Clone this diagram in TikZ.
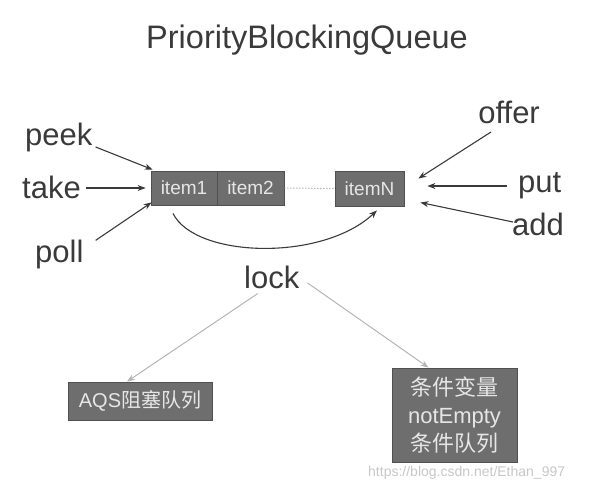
\documentclass[tikz,border=0pt]{standalone}
\usepackage{fontspec}
\setmainfont{Liberation Sans}
\newfontfamily\cjk{Noto Sans CJK SC}
\usetikzlibrary{arrows.meta}
\definecolor{txt}{HTML}{3A3A3A}
\definecolor{boxfill}{HTML}{6E6E6E}
\definecolor{boxline}{HTML}{505050}
\definecolor{boxtxt}{HTML}{E6E6E6}
\definecolor{lightarrow}{HTML}{B4B4B4}
\tikzset{
  op/.style={inner sep=0pt, text=txt, font=\fontsize{31}{31}\selectfont, anchor=base west},
  qbox/.style={draw=boxline, fill=boxfill, text=boxtxt, inner sep=0pt, line width=0.8pt, font=\fontsize{19}{19}\selectfont},
  darr/.style={draw=txt, line width=1.1pt, -{Stealth[length=8pt,width=6pt]}},
  larr/.style={draw=lightarrow, line width=1pt, -{Stealth[length=8pt,width=6pt]}},
}
\begin{document}
\begin{tikzpicture}[x=1pt,y=-1pt]
\useasboundingbox (0,0) rectangle (601,488);
\node[inner sep=0pt, text=txt, font=\fontsize{32.5}{32.5}\selectfont, anchor=base] (title) at (307,48) {PriorityBlockingQueue};

\node[qbox, minimum width=66pt, minimum height=34pt] (item1) at (184,188) {item1};
\node[qbox, minimum width=67pt, minimum height=34pt] (item2) at (250.5,188) {item2};
\node[qbox, minimum width=69pt, minimum height=35pt] (itemN) at (369.5,188.5) {itemN};
\draw[black!45, line width=1pt, dotted] (item2.east) -- (itemN.west);

\node[op] (peek) at (25,145) {peek};
\node[op] (take) at (22,198) {take};
\node[op] (poll) at (35,262) {poll};
\node[op, anchor=base east] (offer) at (540,123) {offer};
\node[op] (put) at (518,192) {put};
\node[op] (add) at (512,235) {add};
\node[op] (lock) at (244,288) {lock};

\draw[darr] ([shift={(3,10)}]peek.east) -- ([shift={(2,-1)}]item1.north west);
\draw[darr] ([shift={(5,-10)}]take.base east) -- ([shift={(-5,0)}]item1.west);
\draw[darr] ([shift={(12,1)}]poll.north east) -- ([shift={(1,-3)}]item1.south west);
\draw[darr] ([shift={(-49,9)}]offer.base east) -- ([shift={(14,-10)}]itemN.east);
\draw[darr] ([shift={(-11,-6)}]put.base west) -- ([shift={(23,-6)}]put.base west -| itemN.east);
\draw[darr] ([shift={(1,-13)}]add.base west) -- ([shift={(16,14)}]itemN.east);
\draw[darr] ([shift={(-11,8)}]item1.south) .. controls (195,258) and (322,262) .. ([shift={(7.5,4)}]itemN.south);

\node[qbox, minimum width=144pt, minimum height=38pt, font=\fontsize{20}{20}\selectfont] (aqs) at (140,401) {AQS{\cjk 阻塞队列}};
\node[qbox, minimum width=125pt, minimum height=94pt, align=center, font=\fontsize{22}{28}\selectfont] (cond) at (454.5,415) {{\cjk 条件变量}\\notEmpty\\{\cjk 条件队列}};

\draw[larr] ([shift={(-14,5)}]lock.south) -- ([shift={(-13,0)}]aqs.north);
\draw[larr] ([shift={(8,6)}]lock.east) -- ([shift={(-26,0)}]cond.north);

\node[inner sep=0pt, anchor=base west, text=black!22, font=\fontsize{14}{14}\selectfont] (wm) at (368,476) {https://blog.csdn.net/Ethan\_997};
\end{tikzpicture}
\end{document}
